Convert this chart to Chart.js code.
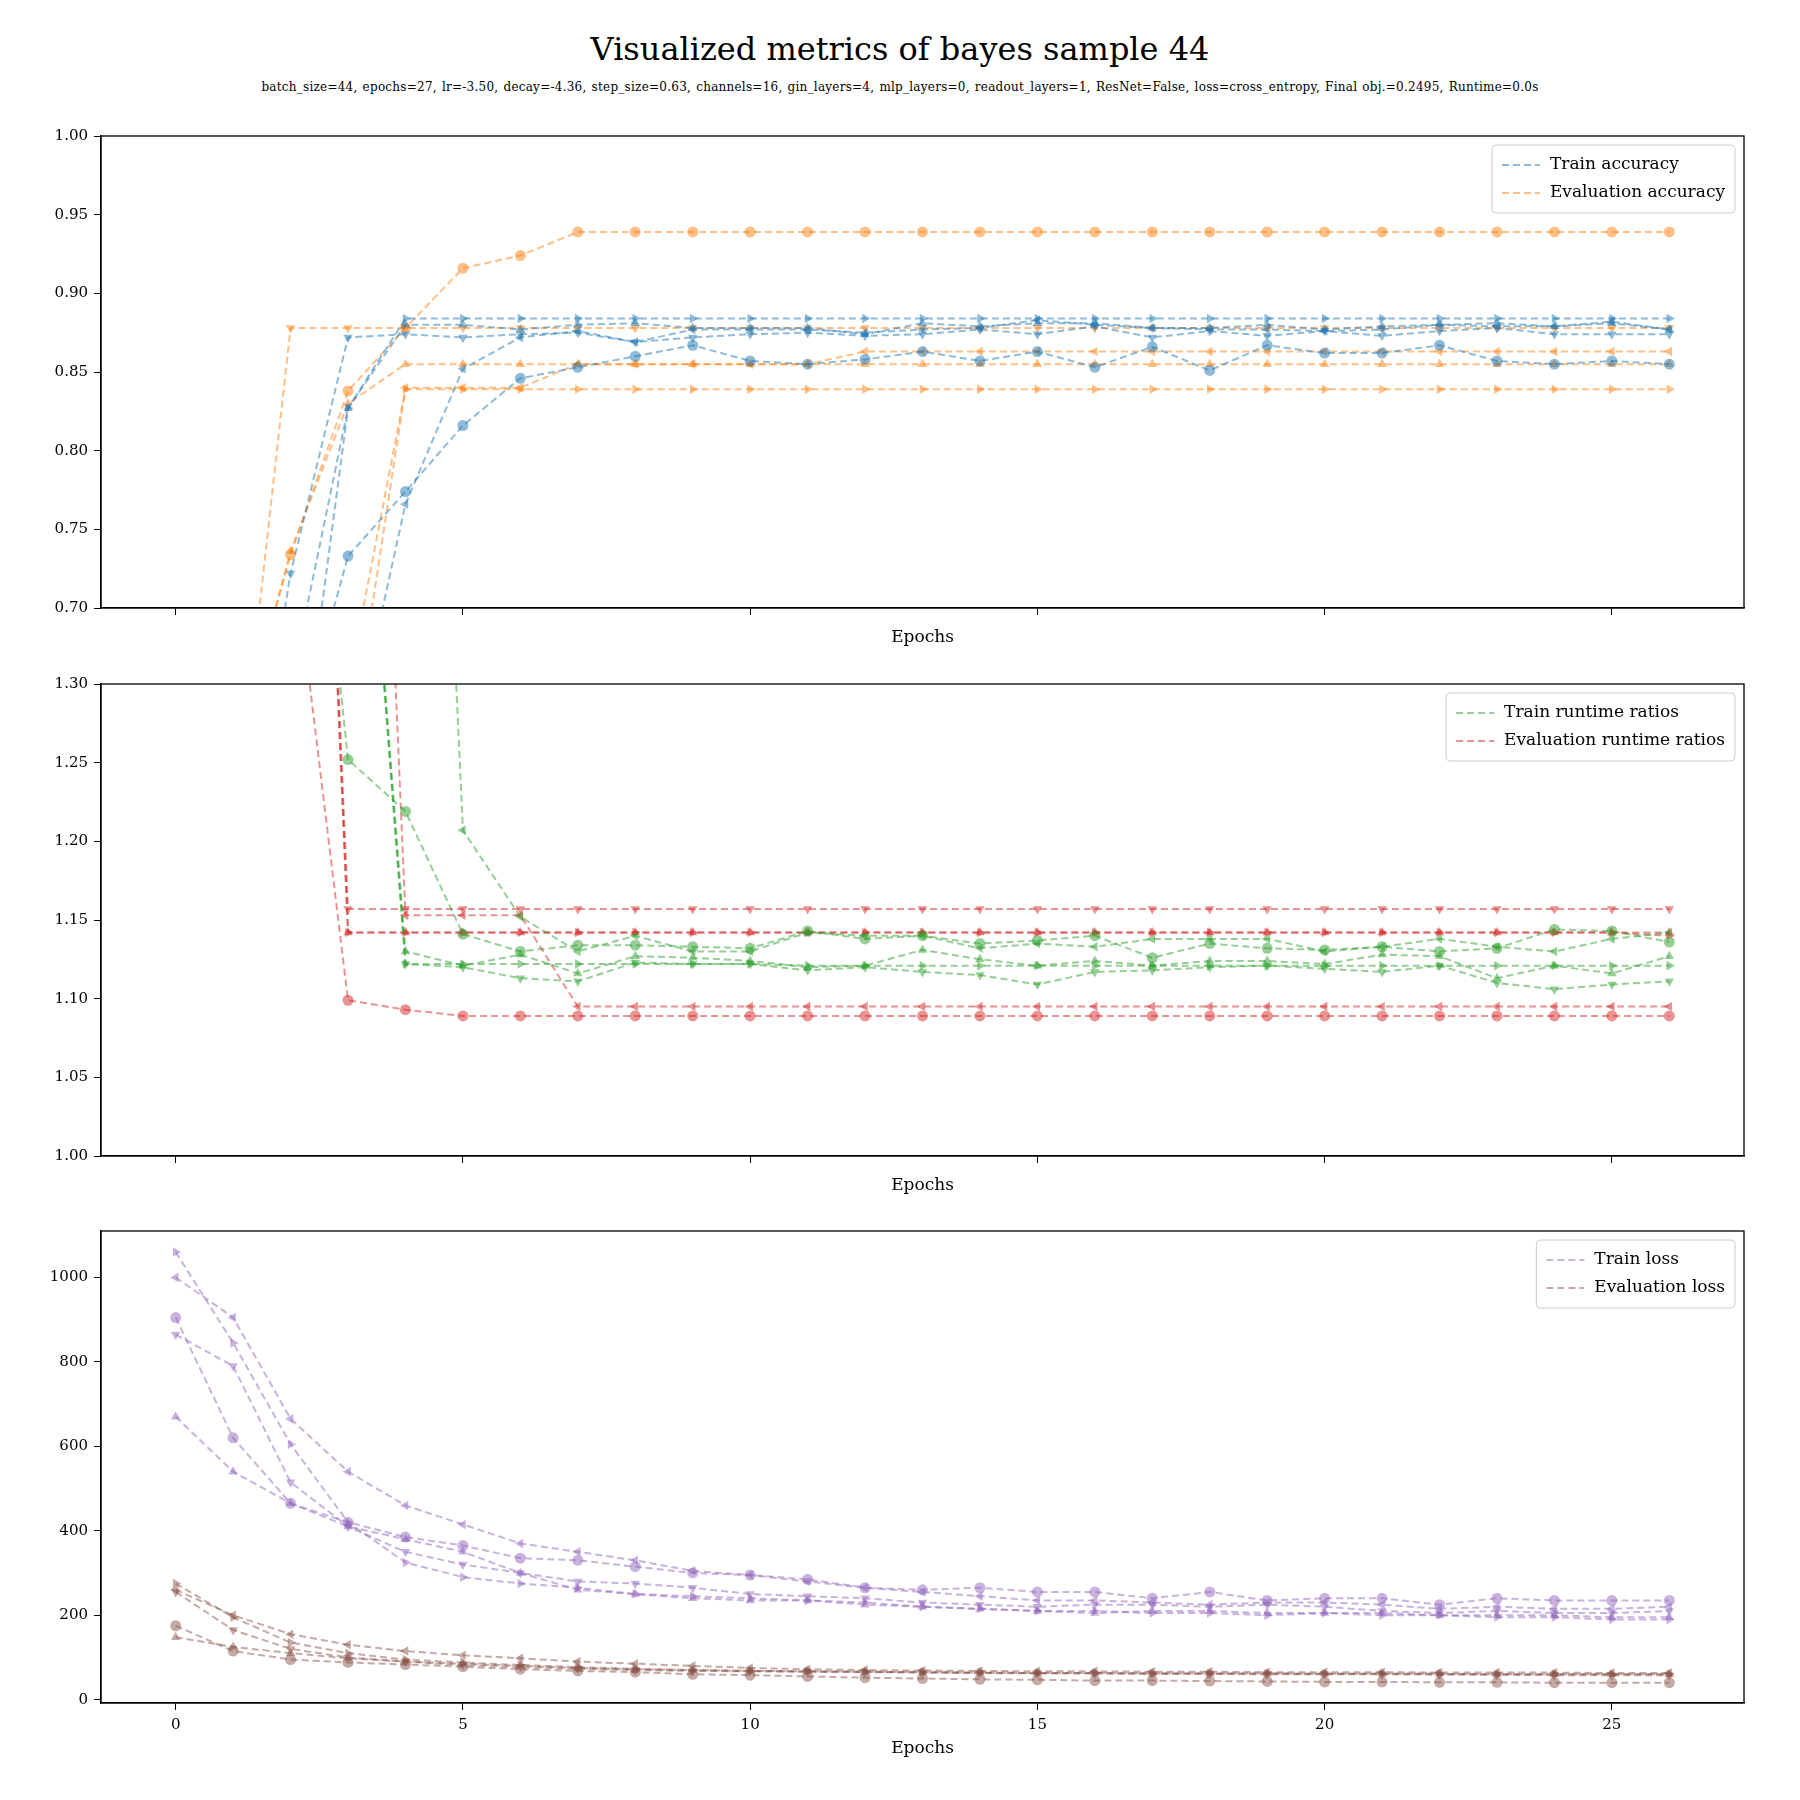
<!DOCTYPE html>
<html><head><meta charset="utf-8">
<script src="https://cdn.jsdelivr.net/npm/chart.js@4/dist/chart.umd.min.js"></script>
<style>
body{margin:0;background:#fff;font-family:"DejaVu Serif",serif;}
#wrap{position:relative;width:1800px;height:1800px;}
canvas{position:absolute;left:0;}
.t{position:absolute;width:1800px;text-align:center;left:0;}
</style></head><body>
<div id="wrap">
<div class="t" style="top:30px;font-size:32px;">Visualized metrics of bayes sample 44</div>
<div class="t" style="top:80px;font-size:12px;letter-spacing:0.25px;word-spacing:1px;">batch_size=44, epochs=27, lr=-3.50, decay=-4.36, step_size=0.63, channels=16, gin_layers=4, mlp_layers=0, readout_layers=1, ResNet=False, loss=cross_entropy, Final obj.=0.2495, Runtime=0.0s</div>
<canvas id="c1" width="1800" height="568" style="top:100px"></canvas>
<canvas id="c2" width="1800" height="568" style="top:648px"></canvas>
<canvas id="c3" width="1800" height="568" style="top:1195px"></canvas>
</div>
<script>
var epochs = [];
for (var i = 0; i < 27; i++) epochs.push(i);

// accuracy
var trainAccCircle = [0.3,0.45,0.6,0.733,0.774,0.816,0.846,0.853,0.860,0.867,0.857,0.855,0.858,0.863,0.857,0.863,0.853,0.866,0.851,0.867,0.862,0.862,0.867,0.857,0.855,0.857,0.855];
var trainAccDown = [0.3,0.5,0.722,0.872,0.874,0.872,0.874,0.875,0.869,0.872,0.874,0.875,0.873,0.874,0.877,0.874,0.879,0.872,0.876,0.873,0.876,0.873,0.876,0.878,0.874,0.874,0.874];
var trainAccUp = [0.3,0.45,0.55,0.827,0.880,0.880,0.877,0.880,0.881,0.878,0.878,0.878,0.874,0.881,0.879,0.881,0.881,0.878,0.878,0.880,0.877,0.879,0.880,0.881,0.879,0.881,0.877];
var trainAccLeft = [0.3,0.4,0.5,0.6,0.766,0.852,0.872,0.876,0.869,0.877,0.877,0.877,0.875,0.877,0.878,0.883,0.880,0.878,0.877,0.877,0.876,0.877,0.880,0.879,0.879,0.882,0.877];
var trainAccRight = [0.3,0.5,0.65,0.827,0.884,0.884,0.884,0.884,0.884,0.884,0.884,0.884,0.884,0.884,0.884,0.884,0.884,0.884,0.884,0.884,0.884,0.884,0.884,0.884,0.884,0.884,0.884];
var evalAccCircle = [0.4,0.6,0.734,0.838,0.878,0.916,0.924,0.939,0.939,0.939,0.939,0.939,0.939,0.939,0.939,0.939,0.939,0.939,0.939,0.939,0.939,0.939,0.939,0.939,0.939,0.939,0.939];
var evalAccDown = [0.4,0.55,0.878,0.878,0.878,0.878,0.878,0.878,0.878,0.878,0.878,0.878,0.878,0.878,0.878,0.878,0.878,0.878,0.878,0.878,0.878,0.878,0.878,0.878,0.878,0.878,0.878];
var evalAccUp = [0.4,0.6,0.736,0.830,0.855,0.855,0.855,0.855,0.855,0.855,0.855,0.855,0.855,0.855,0.855,0.855,0.855,0.855,0.855,0.855,0.855,0.855,0.855,0.855,0.855,0.855,0.855];
var evalAccLeft = [0.3,0.4,0.5,0.6,0.840,0.840,0.840,0.855,0.855,0.855,0.855,0.855,0.863,0.863,0.863,0.863,0.863,0.863,0.863,0.863,0.863,0.863,0.863,0.863,0.863,0.863,0.863];
var evalAccRight = [0.3,0.4,0.5,0.65,0.839,0.839,0.839,0.839,0.839,0.839,0.839,0.839,0.839,0.839,0.839,0.839,0.839,0.839,0.839,0.839,0.839,0.839,0.839,0.839,0.839,0.839,0.839];

// runtime ratios
var trainRtCircle = [3,2,1.6,1.252,1.219,1.141,1.130,1.134,1.134,1.133,1.132,1.143,1.138,1.140,1.135,1.137,1.140,1.126,1.135,1.132,1.131,1.133,1.130,1.132,1.144,1.143,1.136];
var trainRtDown = [3,2.5,2,1.6,1.122,1.120,1.113,1.111,1.123,1.122,1.122,1.118,1.120,1.117,1.115,1.109,1.117,1.118,1.120,1.121,1.119,1.117,1.121,1.110,1.106,1.109,1.111];
var trainRtUp = [3,2.5,2,1.6,1.130,1.121,1.128,1.116,1.127,1.126,1.124,1.120,1.121,1.131,1.125,1.121,1.124,1.121,1.124,1.124,1.122,1.128,1.127,1.113,1.121,1.116,1.127];
var trainRtLeft = [3,2.8,2.6,2.4,2,1.207,1.152,1.130,1.140,1.130,1.130,1.142,1.140,1.140,1.132,1.135,1.133,1.138,1.138,1.138,1.130,1.133,1.138,1.133,1.130,1.138,1.142];
var trainRtRight = [3,2.5,2,1.6,1.122,1.122,1.122,1.122,1.122,1.122,1.122,1.121,1.121,1.121,1.121,1.121,1.121,1.121,1.121,1.121,1.121,1.121,1.121,1.121,1.121,1.121,1.121];
var evalRtCircle = [2,1.6,1.4,1.099,1.093,1.089,1.089,1.089,1.089,1.089,1.089,1.089,1.089,1.089,1.089,1.089,1.089,1.089,1.089,1.089,1.089,1.089,1.089,1.089,1.089,1.089,1.089];
var evalRtDown = [3,2.5,2,1.157,1.157,1.157,1.157,1.157,1.157,1.157,1.157,1.157,1.157,1.157,1.157,1.157,1.157,1.157,1.157,1.157,1.157,1.157,1.157,1.157,1.157,1.157,1.157];
var evalRtUp = [3,2.5,2,1.142,1.142,1.142,1.142,1.142,1.142,1.142,1.142,1.142,1.142,1.142,1.142,1.142,1.142,1.142,1.142,1.142,1.142,1.142,1.142,1.142,1.142,1.142,1.142];
var evalRtLeft = [3,2.8,2.5,2,1.153,1.153,1.153,1.095,1.095,1.095,1.095,1.095,1.095,1.095,1.095,1.095,1.095,1.095,1.095,1.095,1.095,1.095,1.095,1.095,1.095,1.095,1.095];
var evalRtRight = [3,2.5,2,1.142,1.142,1.142,1.142,1.142,1.142,1.142,1.142,1.142,1.142,1.142,1.142,1.142,1.142,1.142,1.142,1.142,1.142,1.142,1.142,1.142,1.142,1.142,1.140];

// loss
var trainLossCircle = [905,620,465,420,385,365,335,330,315,300,295,285,265,260,265,255,255,240,255,235,240,240,225,240,235,235,235];
var trainLossDown = [865,790,515,410,350,320,300,280,275,265,250,245,240,230,225,220,225,225,220,225,220,210,205,210,205,205,210];
var trainLossUp = [670,540,465,410,380,350,300,260,250,240,235,235,225,220,215,210,205,210,210,205,205,205,200,200,200,195,195];
var trainLossLeft = [1000,905,665,540,460,415,370,350,330,305,295,280,265,255,245,235,235,230,225,230,230,225,215,220,215,215,220];
var trainLossRight = [1060,845,605,420,325,290,275,265,250,245,240,235,230,220,215,210,210,205,205,200,205,200,200,195,195,190,190];
var evalLossCircle = [175,115,95,88,83,78,72,68,65,60,58,55,52,50,48,47,45,45,44,43,42,42,41,41,40,40,40];
var evalLossDown = [255,165,120,100,90,82,77,73,70,68,67,66,65,64,63,62,62,61,61,60,60,60,59,59,58,58,58];
var evalLossUp = [148,125,110,98,90,85,80,75,72,70,68,67,66,65,64,63,63,62,62,62,61,61,61,60,60,60,60];
var evalLossLeft = [260,200,155,130,115,105,98,90,85,80,75,72,70,69,68,67,67,66,66,65,65,65,64,64,64,63,63];
var evalLossRight = [275,195,135,110,95,88,82,77,73,70,68,67,66,65,64,63,63,62,62,62,61,61,61,60,60,60,60];

var xTicks = [0, 5, 10, 15, 20, 25];
var accTicks = [0.70, 0.75, 0.80, 0.85, 0.90, 0.95, 1.00];
var rtTicks = [1.00, 1.05, 1.10, 1.15, 1.20, 1.25, 1.30];
var lossTicks = [0, 200, 400, 600, 800, 1000];

var markers = [['circle',0],['triangle',180],['triangle',0],['triangle',270],['triangle',90]];
var font = 'DejaVu Serif';
Chart.defaults.font.family = font;
Chart.defaults.color = '#000';

function series(lists, color) {
  return lists.map(function (vals, k) {
    return {
      data: vals.map(function (v, i) { return {x: epochs[i], y: v}; }),
      borderColor: color, backgroundColor: color, borderWidth: 2, borderDash: [7, 4],
      pointStyle: markers[k][0], rotation: markers[k][1], pointRadius: 5.5,
      pointBorderWidth: 0, clip: 0, tension: 0
    };
  });
}

var legendBox = {
  id: 'legendBox',
  afterDraw: function (chart, args, opts) {
    var c = chart.ctx, a = chart.chartArea;
    c.save();
    // frame
    c.strokeStyle = '#000'; c.lineWidth = 1.3;
    c.strokeRect(a.left, a.top, a.right - a.left, a.bottom - a.top);
    c.font = '17px ' + font;
    var w = 0;
    opts.items.forEach(function (it) { w = Math.max(w, c.measureText(it[0]).width); });
    var bw = w + 68, bh = opts.items.length * 28 + 12;
    var x0 = a.right - bw - 9, y0 = a.top + 9;
    c.fillStyle = 'rgba(255,255,255,0.8)';
    c.strokeStyle = '#ccc';
    c.lineWidth = 1;
    c.beginPath(); c.roundRect(x0, y0, bw, bh, 4); c.fill(); c.stroke();
    opts.items.forEach(function (it, k) {
      var y = y0 + 20 + k * 28;
      c.strokeStyle = it[1]; c.lineWidth = 2; c.setLineDash([7, 4]);
      c.beginPath(); c.moveTo(x0 + 10, y); c.lineTo(x0 + 48, y); c.stroke();
      c.setLineDash([]);
      c.fillStyle = '#000'; c.textBaseline = 'middle';
      c.fillText(it[0], x0 + 58, y);
    });
    c.restore();
  }
};

function makeChart(id, sets, ymin, ymax, yTicks, showX, legendItems, fmt) {
  return new Chart(document.getElementById(id), {
    type: 'line',
    data: {datasets: sets},
    plugins: [legendBox],
    options: {
      responsive: false, animation: false, devicePixelRatio: 1,
      layout: {padding: {top: 36, right: 56, left: 0, bottom: 0}},
      plugins: {legend: {display: false}, tooltip: {enabled: false}, legendBox: {items: legendItems}},
      scales: {
        x: {
          type: 'linear', min: -1.3, max: 27.3,
          afterBuildTicks: function (ax) { ax.ticks = xTicks.map(function (v) { return {value: v}; }); },
          grid: {display: true, drawOnChartArea: false, drawTicks: true, tickLength: 7, tickColor: '#000'},
          border: {color: '#000', width: 1.3},
          ticks: {display: showX, font: {size: 15}, padding: 6},
          title: {display: true, text: 'Epochs', font: {size: 17}, padding: {top: 2, bottom: showX ? 4 : 20}},
          afterFit: function (ax) { ax.height = 60; }
        },
        y: {
          min: ymin, max: ymax,
          afterBuildTicks: function (ax) { ax.ticks = yTicks.map(function (v) { return {value: v}; }); },
          grid: {display: true, drawOnChartArea: false, tickLength: 7, tickColor: '#000'},
          border: {color: '#000', width: 1.3},
          ticks: {font: {size: 15}, padding: 6, callback: fmt},
          afterFit: function (ax) { ax.width = 101; }
        }
      }
    }
  });
}

var blue = 'rgba(31,119,180,0.5)', orange = 'rgba(255,127,14,0.5)', green = 'rgba(44,160,44,0.5)';
var red = 'rgba(214,39,40,0.5)', purple = 'rgba(148,103,189,0.5)', brown = 'rgba(140,86,75,0.5)';

makeChart('c1',
  series([trainAccCircle,trainAccDown,trainAccUp,trainAccLeft,trainAccRight], blue)
    .concat(series([evalAccCircle,evalAccDown,evalAccUp,evalAccLeft,evalAccRight], orange)),
  0.7, 1.0, accTicks, false, [['Train accuracy', blue], ['Evaluation accuracy', orange]],
  function (v) { return v.toFixed(2); });
makeChart('c2',
  series([trainRtCircle,trainRtDown,trainRtUp,trainRtLeft,trainRtRight], green)
    .concat(series([evalRtCircle,evalRtDown,evalRtUp,evalRtLeft,evalRtRight], red)),
  1.0, 1.3, rtTicks, false, [['Train runtime ratios', green], ['Evaluation runtime ratios', red]],
  function (v) { return v.toFixed(2); });
makeChart('c3',
  series([trainLossCircle,trainLossDown,trainLossUp,trainLossLeft,trainLossRight], purple)
    .concat(series([evalLossCircle,evalLossDown,evalLossUp,evalLossLeft,evalLossRight], brown)),
  -8, 1110, lossTicks, true, [['Train loss', purple], ['Evaluation loss', brown]],
  function (v) { return v; });
</script>
</body></html>
